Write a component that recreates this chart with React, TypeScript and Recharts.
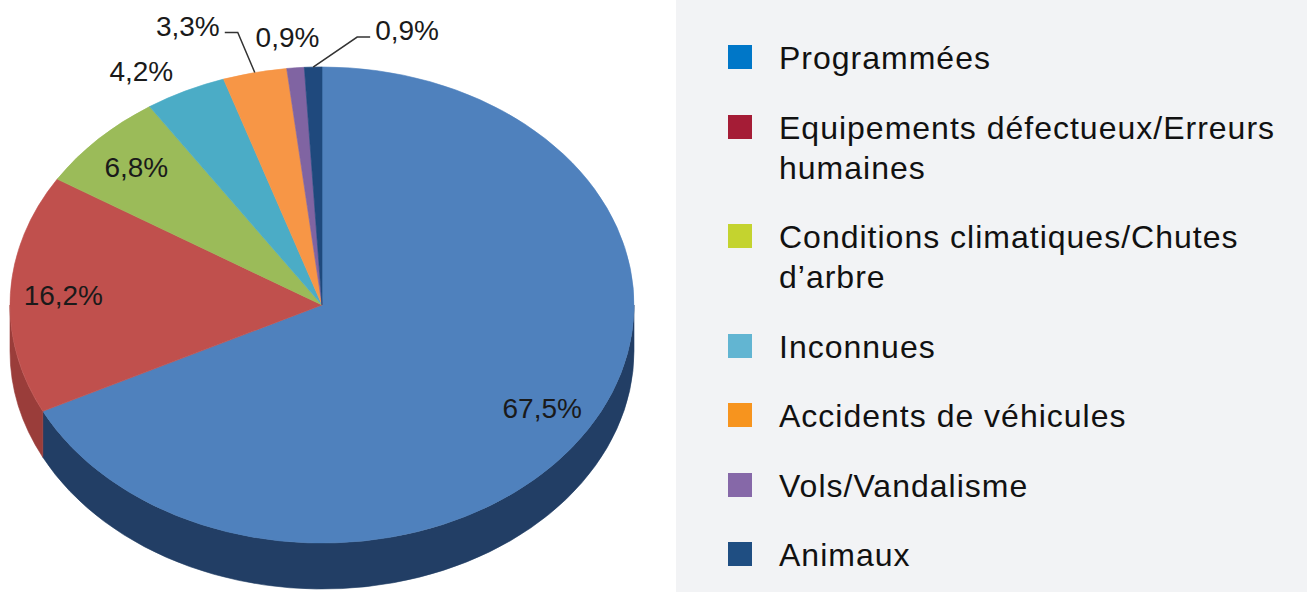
import React from 'react';
import { PieChart, Pie, Cell, Legend } from 'recharts';

// ---- data ----
const categories = [
  'Programmées',
  'Equipements défectueux/Erreurs humaines',
  'Conditions climatiques/Chutes d\u2019arbre',
  'Inconnues',
  'Accidents de véhicules',
  'Vols/Vandalisme',
  'Animaux',
];
const values = [67.5, 16.2, 6.8, 4.2, 3.3, 0.9, 0.9];
const valueLabels = ['67,5%', '16,2%', '6,8%', '4,2%', '3,3%', '0,9%', '0,9%'];

// ---- styles ----
const pieColors = ['#4f81bd', '#c0504d', '#9bbb59', '#4bacc6', '#f79646', '#8064a2', '#1f497d'];
const sideColors = ['#223e65', '#9a3d3a', '#7a9545', '#3a8ba1', '#c67738', '#654e82', '#152f4f'];
const legendColors = ['#0077c8', '#a51c36', '#c4d32f', '#62b5d2', '#f7941e', '#8668a8', '#1f4e82'];

const data = categories.map((name, i) => ({ name, value: values[i], label: valueLabels[i] }));

const TILT = 0.763;
const DEPTH = 46;
const RAD = Math.PI / 180;

// label layout for the small outside labels (offsets from the slice's rim point)
const outsideLayout: Record<number, { dx: number; dy: number; leader?: 'left' | 'right' }> = {
  3: { dx: -44, dy: -19 },
  4: { dx: -17, dy: -40, leader: 'left' },
  5: { dx: -8, dy: -30 },
  6: { dx: 44, dy: -30, leader: 'right' },
};

function ept(cx: number, cy: number, r: number, a: number, dy = 0): [number, number] {
  return [cx + r * Math.cos(a * RAD), cy - r * TILT * Math.sin(a * RAD) + dy];
}

function idxOf(props: any): number {
  if (typeof props.index === 'number') return props.index;
  const n = props.payload?.name ?? props.name;
  return categories.indexOf(n);
}

function Slice3D(props: any) {
  const { cx, cy, outerRadius, startAngle, endAngle } = props;
  const idx = idxOf(props);
  const r = outerRadius;
  const ry = r * TILT;
  const hi = Math.max(startAngle, endAngle);
  const lo = Math.min(startAngle, endAngle);
  const walls: string[] = [];
  for (const k of [-1, 0, 1]) {
    const f1 = -180 + 360 * k;
    const f2 = 360 * k;
    const a1 = Math.max(lo, f1);
    const a2 = Math.min(hi, f2);
    if (a2 > a1 + 0.01) {
      const [x1, y1] = ept(cx, cy, r, a2);
      const [x2, y2] = ept(cx, cy, r, a1);
      walls.push(
        `M${x1},${y1} A${r},${ry} 0 0 1 ${x2},${y2} L${x2},${y2 + DEPTH} A${r},${ry} 0 0 0 ${x1},${y1 + DEPTH} Z`
      );
    }
  }
  const [sx, sy] = ept(cx, cy, r, hi);
  const [ex, ey] = ept(cx, cy, r, lo);
  const large = hi - lo > 180 ? 1 : 0;
  const top = `M${cx},${cy} L${sx},${sy} A${r},${ry} 0 ${large} 1 ${ex},${ey} Z`;
  const fill = pieColors[idx] ?? props.fill;
  const side = sideColors[idx] ?? props.fill;
  return (
    <g>
      {walls.map((d, i) => (
        <path key={i} d={d} fill={side} stroke={side} strokeWidth={0.6} />
      ))}
      <path d={top} fill={fill} stroke={fill} strokeWidth={0.6} />
    </g>
  );
}

const renderLabel = (props: any) => {
  const { cx, cy, midAngle, outerRadius } = props;
  const idx = idxOf(props);
  const r = outerRadius;
  const text = valueLabels[idx];
  const font = { fontFamily: '"Liberation Sans", Arial, sans-serif', fontSize: 28, fill: '#1a1a1a' };
  const lay = outsideLayout[idx];
  if (!lay) {
    const x = cx + 0.83 * r * Math.cos(midAngle * RAD);
    const y = cy - 0.83 * r * TILT * Math.sin(midAngle * RAD);
    return (
      <text x={x} y={y} textAnchor="middle" dominantBaseline="central" {...font}>
        {text}
      </text>
    );
  }
  const [ex, ey] = ept(cx, cy, r, midAngle);
  const bx = ex + lay.dx;
  const by = ey + lay.dy;
  if (!lay.leader) {
    return (
      <text x={bx} y={by} textAnchor="middle" dominantBaseline="central" {...font}>
        {text}
      </text>
    );
  }
  const dir = lay.leader === 'left' ? -1 : 1;
  const hx = bx + dir * 13;
  return (
    <g>
      <polyline
        points={`${ex},${ey} ${bx},${by} ${hx},${by}`}
        fill="none"
        stroke="#333"
        strokeWidth={1.5}
      />
      <text x={hx + dir * 5} y={by + 3} textAnchor={dir < 0 ? 'end' : 'start'} {...font}>
        {text}
      </text>
    </g>
  );
};

const renderLegend = (props: any) => {
  const payload: any[] = [...(props.payload || [])].sort(
    (a, b) => categories.indexOf(a.value) - categories.indexOf(b.value)
  );
  return (
    <div
      style={{
        width: '100%',
        height: '100%',
        background: '#f2f3f5',
        paddingTop: 38,
        boxSizing: 'border-box',
        fontFamily: '"Liberation Sans", Arial, sans-serif',
        fontSize: 32,
        letterSpacing: 1,
        color: '#111',
      }}
    >
      {payload.map((entry) => {
        const i = categories.indexOf(entry.value);
        return (
          <div key={entry.value} style={{ display: 'flex', alignItems: 'flex-start', marginBottom: 29.5 }}>
            <div
              style={{
                width: 24,
                height: 24,
                background: legendColors[i],
                marginLeft: 52,
                marginTop: 7,
                flex: 'none',
              }}
            />
            <div style={{ marginLeft: 27, width: 520, lineHeight: '40px' }}>{entry.value}</div>
          </div>
        );
      })}
    </div>
  );
};

export default function App() {
  return (
    <div style={{ position: 'absolute', left: 0, top: 0, width: 1307, height: 592, background: '#ffffff' }}>
      <PieChart width={1307} height={592} margin={{ top: 0, right: 0, bottom: 0, left: 0 }}>
        <Pie
          data={data}
          dataKey="value"
          nameKey="name"
          cx={322}
          cy={305}
          outerRadius={312}
          startAngle={90}
          endAngle={-270}
          stroke="none"
          isAnimationActive={false}
          label={renderLabel}
          labelLine={false}
          shape={Slice3D}
          activeShape={Slice3D}
          inactiveShape={Slice3D}
        >
          {data.map((d, i) => (
            <Cell key={d.name} fill={pieColors[i]} />
          ))}
        </Pie>
        <Legend
          layout="vertical"
          align="right"
          verticalAlign="top"
          itemSorter={null}
          content={renderLegend}
          wrapperStyle={{ left: 676, top: 0, width: 631, height: 592, right: 'auto' }}
        />
      </PieChart>
    </div>
  );
}
